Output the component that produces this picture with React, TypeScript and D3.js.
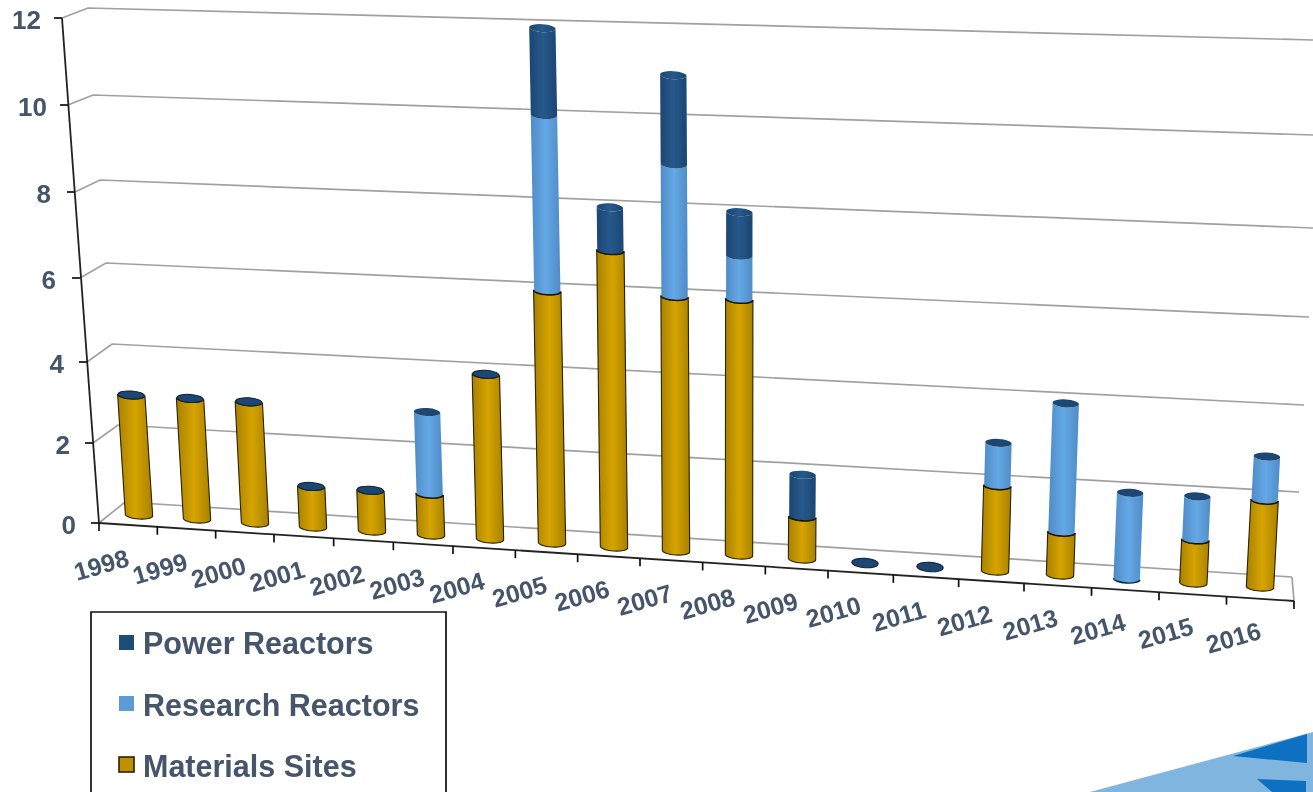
import React from "react";
import * as d3 from "d3";

const years = ["1998","1999","2000","2001","2002","2003","2004","2005","2006","2007","2008","2009","2010","2011","2012","2013","2014","2015","2016"];
const materials = [3,3,3,1,1,1,4,6,7,6,6,1,0,0,2,1,0,1,2];
const research = [0,0,0,0,0,2,0,4,0,3,1,0,0,0,1,3,2,1,1];
const powerR = [0,0,0,0,0,0,0,2,1,2,1,1,0,0,0,0,0,0,0];
const yTicks = [0,2,4,6,8,10,12];
const legendNames = ["Power Reactors","Research Reactors","Materials Sites"];

const TXT = "#44546a";
const FONT = "'Liberation Sans', Arial, sans-serif";

// perspective look-ups
const heightScale = d3.scaleLinear().domain(yTicks).range([0,80,161,245,331,418,505]);
const barHeight = d3.scaleLinear().domain(yTicks).range([0,80,160,244,327,414,498]);
const axisX = d3.scaleLinear().domain(yTicks).range([99,93,87,80,75,68,62]);
const backLX = d3.scaleLinear().domain(yTicks).range([125,118,112,106,100,93,88]);
const backLY = d3.scaleLinear().domain(yTicks).range([502,425,344,263,180,95,8]);
const backRX = d3.scaleLinear().domain(yTicks).range([1292,1299,1304,1309,1313,1313,1313]);
const backRY = d3.scaleLinear().domain(yTicks).range([577,492,405,317,228,135,40]);
const tickLabelRight = d3.scaleLinear().domain(yTicks).range([76,70,64,56,51,47,41]);
const baseX = d3.scaleLinear().domain([0,3,6,9,12,15,18]).range([139,313,490,676,865,1060,1260]);
const baseY = d3.scaleLinear().domain([0,18]).range([515,587]);
const persp = d3.scaleLinear().domain([0,18]).range([1,1.087]);
const edgeX = d3.scaleLinear().domain([0,3,6,9,12,15,19]).range([99,274,453,640,828,1024,1294]);
const frontY = d3.scaleLinear().domain([99,1294]).range([523,601]);

const R = 13.2, RY = 4, ANG = 3.7 * Math.PI / 180;
const ca = Math.cos(ANG), sa = Math.sin(ANG), deg = 3.7;

const pt = (i: number, v: number) => {
  const h = barHeight(v);
  return { x: baseX(i) + (baseX(i) - 730) * 0.055 * h / 505, y: baseY(i) - h * persp(i) };
};
const seg = (i: number, a: number, b: number, r = R) => {
  const p = pt(i, a), q = pt(i, b);
  const arc1 = `A${r} ${RY} ${deg} 0 0 ${p.x + r * ca} ${p.y + r * sa}`;
  const arc2 = `A${r} ${RY} ${deg} 0 1 ${q.x - r * ca} ${q.y - r * sa}`;
  return `M${p.x - r * ca} ${p.y - r * sa}${arc1}L${q.x + r * ca} ${q.y + r * sa}${arc2}Z`;
};
const frontArc = (i: number, v: number, r = R) => {
  const p = pt(i, v);
  return `M${p.x - r * ca} ${p.y - r * sa}A${r} ${RY} ${deg} 0 0 ${p.x + r * ca} ${p.y + r * sa}`;
};

const Grad = ({ id, a, b }: { id: string; a: string; b: string }) => (
  <linearGradient id={id} x1="0" x2="1" y1="0" y2="0">
    <stop offset="0" stopColor={a} />
    <stop offset="0.5" stopColor={b} />
    <stop offset="1" stopColor={a} />
  </linearGradient>
);

export default function App() {
  return (
    <svg width={1313} height={792} style={{ position: "fixed", left: 0, top: 0, background: "#fff" }}>
      <defs>
        <Grad id="gGold" a="#a88100" b="#d6a400" />
        <Grad id="gBlue" a="#4f8cc6" b="#64a8e6" />
        <Grad id="gNavy" a="#1b4672" b="#27598b" />
        <filter id="soft" x="-2%" y="-2%" width="104%" height="104%"><feGaussianBlur stdDeviation="0.55" /></filter>
      </defs>

      {/* decoration bottom right */}
      <g filter="url(#soft)">
        <polygon points="1090,792 1313,732 1313,792" fill="#7fb5df" />
        <polygon points="1233,756 1307,734 1307,763" fill="#0a70c0" />
        <polygon points="1257,779 1306,781 1306,792 1272,792" fill="#0a70c0" />
      </g>

      <g filter="url(#soft)">
        {yTicks.map((v) => (
          <path key={v} fill="none" stroke="#a0a0a0" strokeWidth={1.7}
            d={`M${axisX(v)} ${523 - heightScale(v)}L${backLX(v)} ${backLY(v)}L${backRX(v)} ${backRY(v)}`} />
        ))}
        <line x1={backRX(0)} y1={backRY(0)} x2={1294} y2={601} stroke="#a0a0a0" strokeWidth={1.7} />

        {/* axes */}
        <line x1={axisX(0)} y1={523} x2={axisX(12)} y2={523 - heightScale(12)} stroke="#222" strokeWidth={1.8} />
        <line x1={99} y1={523} x2={1294} y2={frontY(1294)} stroke="#222" strokeWidth={1.8} />
        {yTicks.map((v) => (
          <line key={v} x1={axisX(v) - 8} x2={axisX(v)} y1={523 - heightScale(v)} y2={523 - heightScale(v)} stroke="#111" strokeWidth={1.7} />
        ))}
        {d3.range(20).map((i) => (
          <line key={i} x1={edgeX(i)} x2={edgeX(i)} y1={frontY(edgeX(i))} y2={frontY(edgeX(i)) + 8} stroke="#111" strokeWidth={1.7} />
        ))}

        {/* cylinders */}
        {years.map((yr, i) => {
          const m = materials[i], r = research[i], p = powerR[i], tot = m + r + p;
          const top = pt(i, tot);
          return (
            <g key={yr}>
              {m > 0 && <path d={seg(i, 0, m, R + 0.5)} fill="url(#gGold)" stroke="#2a2000" strokeWidth={1.1} />}
              {r > 0 && <path d={seg(i, m, m + r)} fill="url(#gBlue)" />}
              {p > 0 && <path d={seg(i, m + r, tot)} fill="url(#gNavy)" />}
              {m > 0 && tot > m && <path d={frontArc(i, m, R + 0.5)} fill="none" stroke="#1c1600" strokeWidth={1.5} />}
              {m === 0 && r > 0 && <path d={frontArc(i, 0)} fill="none" stroke="#10263c" strokeWidth={1.4} />}
              <ellipse cx={top.x} cy={top.y} rx={R} ry={tot === 0 ? 4.8 : RY}
                fill={p > 0 ? "url(#gNavy)" : "#1b4672"}
                stroke={tot === m ? "#10202e" : "none"} strokeWidth={1}
                transform={`rotate(${deg} ${top.x} ${top.y})`} />
            </g>
          );
        })}

        {/* labels */}
        {yTicks.map((v) => (
          <text key={v} x={tickLabelRight(v)} y={523 - heightScale(v) + 11} textAnchor="end"
            fontFamily={FONT} fontWeight="bold" fontSize={26} fill={TXT}>{v}</text>
        ))}
        {years.map((yr, i) => {
          const x = edgeX(i) + 3 + 0.25 * i, y = frontY(edgeX(i)) + 44 - 0.05 * i;
          return (
            <text key={yr} transform={`translate(${x} ${y}) rotate(-16)`} textAnchor="middle" dominantBaseline="middle"
              fontFamily={FONT} fontWeight="bold" fontSize={25} fill={TXT}>{yr}</text>
          );
        })}

        {/* legend */}
        <path d="M91 792V612H446V792" fill="none" stroke="#111" strokeWidth={1.7} />
        <rect x={119} y={635} width={15} height={15} fill="#1f4e79" />
        <rect x={119} y={696} width={15} height={15} fill="#5b9bd5" />
        <rect x={119} y={757} width={15} height={15} fill="#bf9000" stroke="#2a2000" strokeWidth={1.6} />
        {legendNames.map((t, k) => (
          <text key={t} x={143} y={654 + k * 61.5} fontFamily={FONT} fontWeight="bold" fontSize={30.5} fill={TXT}>{t}</text>
        ))}
      </g>
    </svg>
  );
}
